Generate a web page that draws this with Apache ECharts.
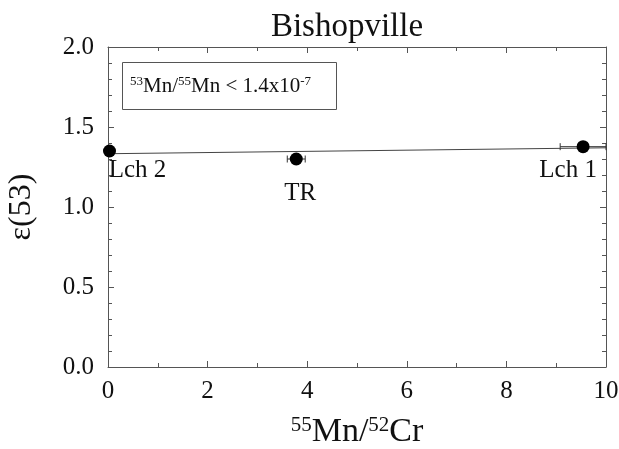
<!DOCTYPE html>
<html>
<head>
<meta charset="utf-8">
<script src="https://cdn.jsdelivr.net/npm/echarts@6/dist/echarts.min.js"></script>
<style>html,body{margin:0;padding:0;background:#fff}#c{width:619px;height:449px}</style>
</head>
<body>
<div id="c"></div>
<script>
// ---- data ----
const pointNames = ['Lch 2', 'TR', 'Lch 1'];
const mnCr = [0.03, 3.78, 9.54];
const eps53 = [1.35, 1.30, 1.377];
const mnCrErrLow = [0.03, 3.60, 9.08];
const mnCrErrHigh = [0.03, 3.96, 10.0];
const fitX = [0, 10];
const fitY = [1.333, 1.370];
const xTicks = [0, 2, 4, 6, 8, 10];
const yTicks = [0.0, 0.5, 1.0, 1.5, 2.0];

const FONT = '"Liberation Serif", "DejaVu Serif", serif';
const AX = '#555';
const TXT = '#111';
const chart = echarts.init(document.getElementById('c'));

const labelOffsets = [[28, 19], [4, 34], [-15, 24]];

const baseX = {
  type: 'value', min: 0, max: 10, interval: 2,
  axisLine: {show: true, onZero: false, lineStyle: {color: AX, width: 1}},
  axisTick: {show: true, inside: true, length: 6, lineStyle: {color: AX}},
  minorTick: {show: true, splitNumber: 2, length: 4, lineStyle: {color: AX}},
  splitLine: {show: false}
};
const baseY = {
  type: 'value', min: 0, max: 2, interval: 0.5,
  axisLine: {show: true, onZero: false, lineStyle: {color: AX, width: 1}},
  axisTick: {show: true, inside: true, length: 6, lineStyle: {color: AX}},
  minorTick: {show: true, splitNumber: 5, length: 4, lineStyle: {color: AX}},
  splitLine: {show: false}
};

chart.setOption({
  backgroundColor: '#fff',
  animation: false,
  title: [{
    text: 'Bishopville', left: 342, top: 6, textAlign: 'center',
    textStyle: {fontFamily: FONT, fontWeight: 'normal', fontSize: 33, color: TXT}
  }, {
    text: '{s|53}{n|Mn/}{s|55}{n|Mn < 1.4x10}{s|-7}',
    left: 122, top: 62, borderColor: '#555', borderWidth: 1,
    padding: [13, 26, 13, 8],
    textStyle: {
      fontWeight: 'normal',
      rich: {
        s: {fontFamily: FONT, fontSize: 13, fontWeight: 'normal', color: TXT, verticalAlign: 'top', lineHeight: 22},
        n: {fontFamily: FONT, fontSize: 21, fontWeight: 'normal', color: TXT, lineHeight: 22}
      }
    }
  }],
  grid: {left: 108, right: 13, top: 47, bottom: 82, containLabel: false, outerBoundsMode: 'none'},
  xAxis: [Object.assign({}, baseX, {
    position: 'bottom',
    name: '{s|55}{n|Mn/}{s|52}{n|Cr}', nameLocation: 'middle', nameGap: 48,
    nameTextStyle: {
      rich: {
        s: {fontFamily: FONT, fontSize: 21, color: TXT, verticalAlign: 'top', lineHeight: 34},
        n: {fontFamily: FONT, fontSize: 34, color: TXT, lineHeight: 34}
      }
    },
    axisLabel: {fontFamily: FONT, fontSize: 25, color: TXT, margin: 12,
      formatter: v => xTicks.includes(v) ? String(v) : ''}
  }), Object.assign({}, baseX, {
    position: 'top', axisLabel: {show: false}
  })],
  yAxis: [Object.assign({}, baseY, {
    position: 'left',
    name: 'ε(53)', nameLocation: 'middle', nameGap: 70, nameRotate: 90,
    nameTextStyle: {fontFamily: FONT, fontSize: 32, color: TXT},
    axisLabel: {fontFamily: FONT, fontSize: 25, color: TXT, margin: 14,
      formatter: v => yTicks.some(t => Math.abs(t - v) < 1e-9) ? v.toFixed(1) : ''}
  }), Object.assign({}, baseY, {
    position: 'right', axisLabel: {show: false}
  })],
  series: [{
    type: 'line',
    data: fitX.map((x, i) => [x, fitY[i]]),
    showSymbol: false, symbol: 'none',
    lineStyle: {color: '#444', width: 1},
    z: 2
  }, {
    type: 'custom',
    data: mnCr.map((x, i) => [mnCrErrLow[i], mnCrErrHigh[i], eps53[i]]),
    renderItem: function (params, api) {
      const lo = api.coord([api.value(0), api.value(2)]);
      const hi = api.coord([api.value(1), api.value(2)]);
      if (hi[0] - lo[0] < 1) return null;
      const c = 3.5;
      const st = {stroke: '#333', lineWidth: 1};
      return {
        type: 'group',
        children: [
          {type: 'line', shape: {x1: lo[0], y1: lo[1], x2: hi[0], y2: hi[1]}, style: st},
          {type: 'line', shape: {x1: lo[0], y1: lo[1] - c, x2: lo[0], y2: lo[1] + c}, style: st},
          {type: 'line', shape: {x1: hi[0], y1: hi[1] - c, x2: hi[0], y2: hi[1] + c}, style: st}
        ]
      };
    },
    z: 3
  }, {
    type: 'scatter',
    data: mnCr.map((x, i) => ({
      value: [x, eps53[i]], name: pointNames[i],
      label: {show: true, formatter: pointNames[i], position: 'inside',
        align: 'center', verticalAlign: 'middle', offset: labelOffsets[i],
        fontFamily: FONT, fontSize: 25, color: TXT}
    })),
    symbol: 'circle', symbolSize: 13,
    itemStyle: {color: '#000', opacity: 1},
    clip: false,
    z: 5
  }]
});
</script>
</body>
</html>
